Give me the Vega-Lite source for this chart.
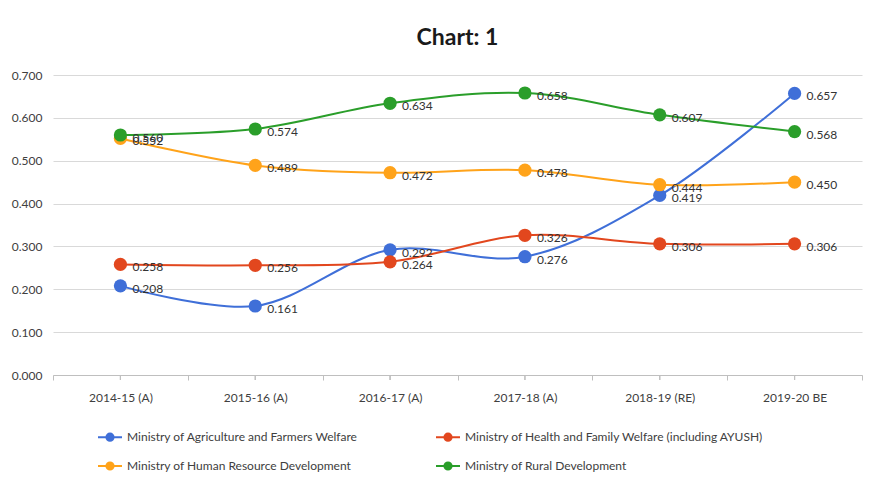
{
  "$schema": "https://vega.github.io/schema/vega-lite/v6.json",
  "width": 809,
  "height": 300,
  "autosize": {"type": "none"},
  "padding": {"left": 53, "top": 75, "right": 23, "bottom": 117},
  "background": "white",
  "config": {"view": {"stroke": null}, "font": "Lato"},
  "title": {"text": "Chart: 1", "fontSize": 23, "font": "Lato", "fontWeight": "bold", "color": "#1a1a1a", "offset": 19, "anchor": "middle"},
  "data": {"values": [
    {"year": "2014-15 (A)", "ministry": "Ministry of Agriculture and Farmers Welfare", "value": 0.208},
    {"year": "2015-16 (A)", "ministry": "Ministry of Agriculture and Farmers Welfare", "value": 0.161},
    {"year": "2016-17 (A)", "ministry": "Ministry of Agriculture and Farmers Welfare", "value": 0.292},
    {"year": "2017-18 (A)", "ministry": "Ministry of Agriculture and Farmers Welfare", "value": 0.276},
    {"year": "2018-19 (RE)", "ministry": "Ministry of Agriculture and Farmers Welfare", "value": 0.419},
    {"year": "2019-20 BE", "ministry": "Ministry of Agriculture and Farmers Welfare", "value": 0.657},
    {"year": "2014-15 (A)", "ministry": "Ministry of Health and Family Welfare (including AYUSH)", "value": 0.258},
    {"year": "2015-16 (A)", "ministry": "Ministry of Health and Family Welfare (including AYUSH)", "value": 0.256},
    {"year": "2016-17 (A)", "ministry": "Ministry of Health and Family Welfare (including AYUSH)", "value": 0.264},
    {"year": "2017-18 (A)", "ministry": "Ministry of Health and Family Welfare (including AYUSH)", "value": 0.326},
    {"year": "2018-19 (RE)", "ministry": "Ministry of Health and Family Welfare (including AYUSH)", "value": 0.306},
    {"year": "2019-20 BE", "ministry": "Ministry of Health and Family Welfare (including AYUSH)", "value": 0.306},
    {"year": "2014-15 (A)", "ministry": "Ministry of Human Resource Development", "value": 0.552},
    {"year": "2015-16 (A)", "ministry": "Ministry of Human Resource Development", "value": 0.489},
    {"year": "2016-17 (A)", "ministry": "Ministry of Human Resource Development", "value": 0.472},
    {"year": "2017-18 (A)", "ministry": "Ministry of Human Resource Development", "value": 0.478},
    {"year": "2018-19 (RE)", "ministry": "Ministry of Human Resource Development", "value": 0.444},
    {"year": "2019-20 BE", "ministry": "Ministry of Human Resource Development", "value": 0.450},
    {"year": "2014-15 (A)", "ministry": "Ministry of Rural Development", "value": 0.560},
    {"year": "2015-16 (A)", "ministry": "Ministry of Rural Development", "value": 0.574},
    {"year": "2016-17 (A)", "ministry": "Ministry of Rural Development", "value": 0.634},
    {"year": "2017-18 (A)", "ministry": "Ministry of Rural Development", "value": 0.658},
    {"year": "2018-19 (RE)", "ministry": "Ministry of Rural Development", "value": 0.607},
    {"year": "2019-20 BE", "ministry": "Ministry of Rural Development", "value": 0.568}
  ]},
  "encoding": {
    "x": {
      "field": "year", "type": "ordinal",
      "sort": ["2014-15 (A)", "2015-16 (A)", "2016-17 (A)", "2017-18 (A)", "2018-19 (RE)", "2019-20 BE"],
      "scale": {"type": "band", "paddingInner": 0, "paddingOuter": 0},
      "axis": {"title": null, "labelAngle": 0, "tickBand": "extent", "domainColor": "#bfbfbf", "tickColor": "#bfbfbf", "tickSize": 5, "labelPadding": 12, "labelFontSize": 12, "labelColor": "#404040", "labelFont": "Lato"}
    },
    "y": {
      "field": "value", "type": "quantitative",
      "scale": {"domain": [0, 0.7]},
      "axis": {"title": null, "format": ".3f", "values": [0, 0.1, 0.2, 0.3, 0.4, 0.5, 0.6, 0.7], "domain": false, "ticks": false, "grid": true, "gridColor": "#d9d9d9", "labelPadding": 11, "labelFontSize": 12, "labelColor": "#404040", "labelFont": "Lato"}
    }
  },
  "layer": [
    {
      "mark": {"type": "tick", "orient": "vertical", "size": 5, "yOffset": 2.5, "color": "#bfbfbf", "thickness": 1},
      "encoding": {"y": {"datum": 0}}
    },
    {
      "mark": {"type": "line", "interpolate": "catmull-rom", "strokeWidth": 2},
      "encoding": {
        "color": {
          "field": "ministry", "type": "nominal",
          "scale": {
            "domain": ["Ministry of Agriculture and Farmers Welfare", "Ministry of Health and Family Welfare (including AYUSH)", "Ministry of Human Resource Development", "Ministry of Rural Development"],
            "range": ["#3F6FD8", "#E2471E", "#FFA31A", "#2A9E2A"]
          },
          "legend": {
            "title": null, "orient": "none", "legendX": 44, "legendY": 349, "columns": 2, "direction": "horizontal",
            "columnPadding": 73, "rowPadding": 8, "labelLimit": 500, "labelFontSize": 12, "labelColor": "#404040", "labelFont": "Lato", "labelOffset": 4,
            "symbolType": "M -1 0 L -0.3 0 M 0.3 0 L 1 0 M 0.3 0 A 0.3 0.3 0 1 1 -0.3 0 A 0.3 0.3 0 1 1 0.3 0 Z",
            "symbolSize": 576, "symbolStrokeWidth": 2,
            "encode": {"symbols": {"update": {"fill": {"scale": "color", "field": "value"}, "stroke": {"scale": "color", "field": "value"}}}}
          }
        }
      }
    },
    {
      "mark": {"type": "point", "filled": true, "size": 175, "opacity": 1},
      "encoding": {"color": {"field": "ministry", "type": "nominal", "legend": null}}
    },
    {
      "mark": {"type": "text", "align": "left", "baseline": "middle", "dx": 12, "dy": 3, "fontSize": 12, "color": "#333333", "font": "Lato"},
      "encoding": {"text": {"field": "value", "type": "quantitative", "format": ".3f"}}
    }
  ]
}
